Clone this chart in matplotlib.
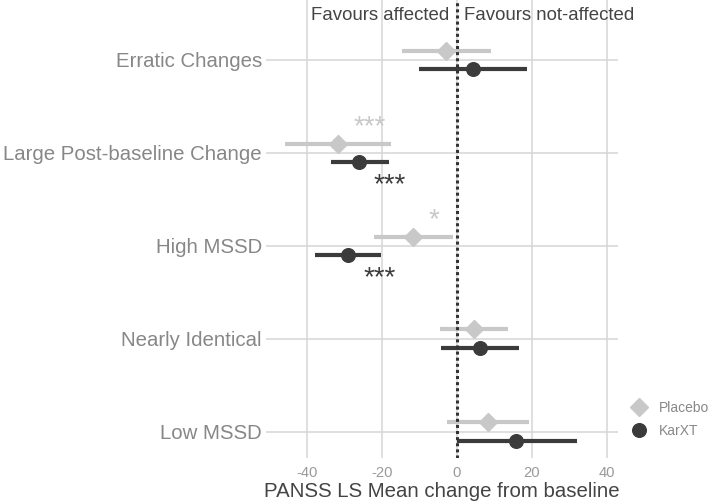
import numpy as np
import matplotlib.pyplot as plt
from matplotlib.lines import Line2D

plt.rcParams['font.family'] = ['Liberation Sans', 'DejaVu Sans']
plt.rcParams['axes.unicode_minus'] = False

# data (top to bottom in the picture)
categories = ["Erratic Changes", "Large Post-baseline Change", "High MSSD",
              "Nearly Identical", "Low MSSD"]

placebo_mean = [-2.9, -31.6, -11.6, 4.6, 8.4]
placebo_lo = [-14.7, -45.7, -22.0, -4.5, -2.5]
placebo_hi = [9.1, -17.5, -0.9, 13.6, 19.2]

karxt_mean = [4.4, -26.0, -29.0, 6.2, 15.8]
karxt_lo = [-10.0, -33.6, -37.8, -4.2, 0.0]
karxt_hi = [18.7, -18.1, -20.2, 16.5, 32.0]

# significance marks: (category index, x centre, label)
placebo_sig = [(1, -23.3, "***"), (2, -6.0, "*")]
karxt_sig = [(1, -17.8, "***"), (2, -20.7, "***")]

col_pl = "#c8c8c8"
col_kx = "#3b3b3b"

ypos = np.arange(len(categories))[::-1] + 1.0  # Erratic at top
off = 0.1

fig = plt.figure(figsize=(7.13, 5.04), dpi=100)
ax = fig.add_axes([266/713, 46/504, 352/713, 458/504])

ax.set_xlim(-50.9, 43.0)
ax.set_ylim(0.717, 5.645)

ax.grid(True, color="#d6d6d6", linewidth=1.1)
ax.set_axisbelow(True)
for s in ax.spines.values():
    s.set_visible(False)

# placebo
ax.hlines(ypos + off, placebo_lo, placebo_hi, color=col_pl, linewidth=3.0, zorder=2)
ax.plot(placebo_mean, ypos + off, linestyle="none", marker="D", markersize=9.5,
        color=col_pl, zorder=3)
# KarXT
ax.hlines(ypos - off, karxt_lo, karxt_hi, color=col_kx, linewidth=3.0, zorder=2)
ax.plot(karxt_mean, ypos - off, linestyle="none", marker="o", markersize=9.8,
        color=col_kx, zorder=3)

# zero line
ax.axvline(0, color="#333333", linewidth=2.2, linestyle=(0, (1, 1)), zorder=4)

# stars
for i, x, lab in placebo_sig:
    ax.text(x, ypos[i] + 0.28, lab, color=col_pl, fontsize=20,
            ha="center", va="center")
for i, x, lab in karxt_sig:
    ax.text(x, ypos[i] - 0.35, lab, color=col_kx, fontsize=20,
            ha="center", va="center")

# direction labels
ax.text(-2, 5.48, "Favours affected", ha="right", va="center",
        fontsize=13.4, color="#444444", clip_on=False)
ax.text(2, 5.48, "Favours not-affected", ha="left", va="center",
        fontsize=13.4, color="#444444", clip_on=False)

ax.set_xticks([-40, -20, 0, 20, 40])
ax.set_yticks(ypos)
ax.set_yticklabels(categories)
ax.tick_params(axis="y", length=0, pad=3, labelsize=14.7, labelcolor="#878787")
ax.tick_params(axis="x", length=0, pad=6, labelsize=10.6, labelcolor="#9a9a9a")
ax.set_xlabel("PANSS LS Mean change from baseline", fontsize=14.7,
              color="#444444", labelpad=1)

handles = [
    Line2D([], [], linestyle="none", marker="D", markersize=9.5, color=col_pl),
    Line2D([], [], linestyle="none", marker="o", markersize=9.8, color=col_kx),
]
fig.legend(handles, ["Placebo", "KarXT"], loc="center left",
           bbox_to_anchor=(625.5/713, 1 - 419.5/504), frameon=False,
           fontsize=10, labelcolor="#888888", handletextpad=0.77,
           labelspacing=0.65, handlelength=1.2, borderaxespad=0)

fig.savefig("out.png", dpi=100)
